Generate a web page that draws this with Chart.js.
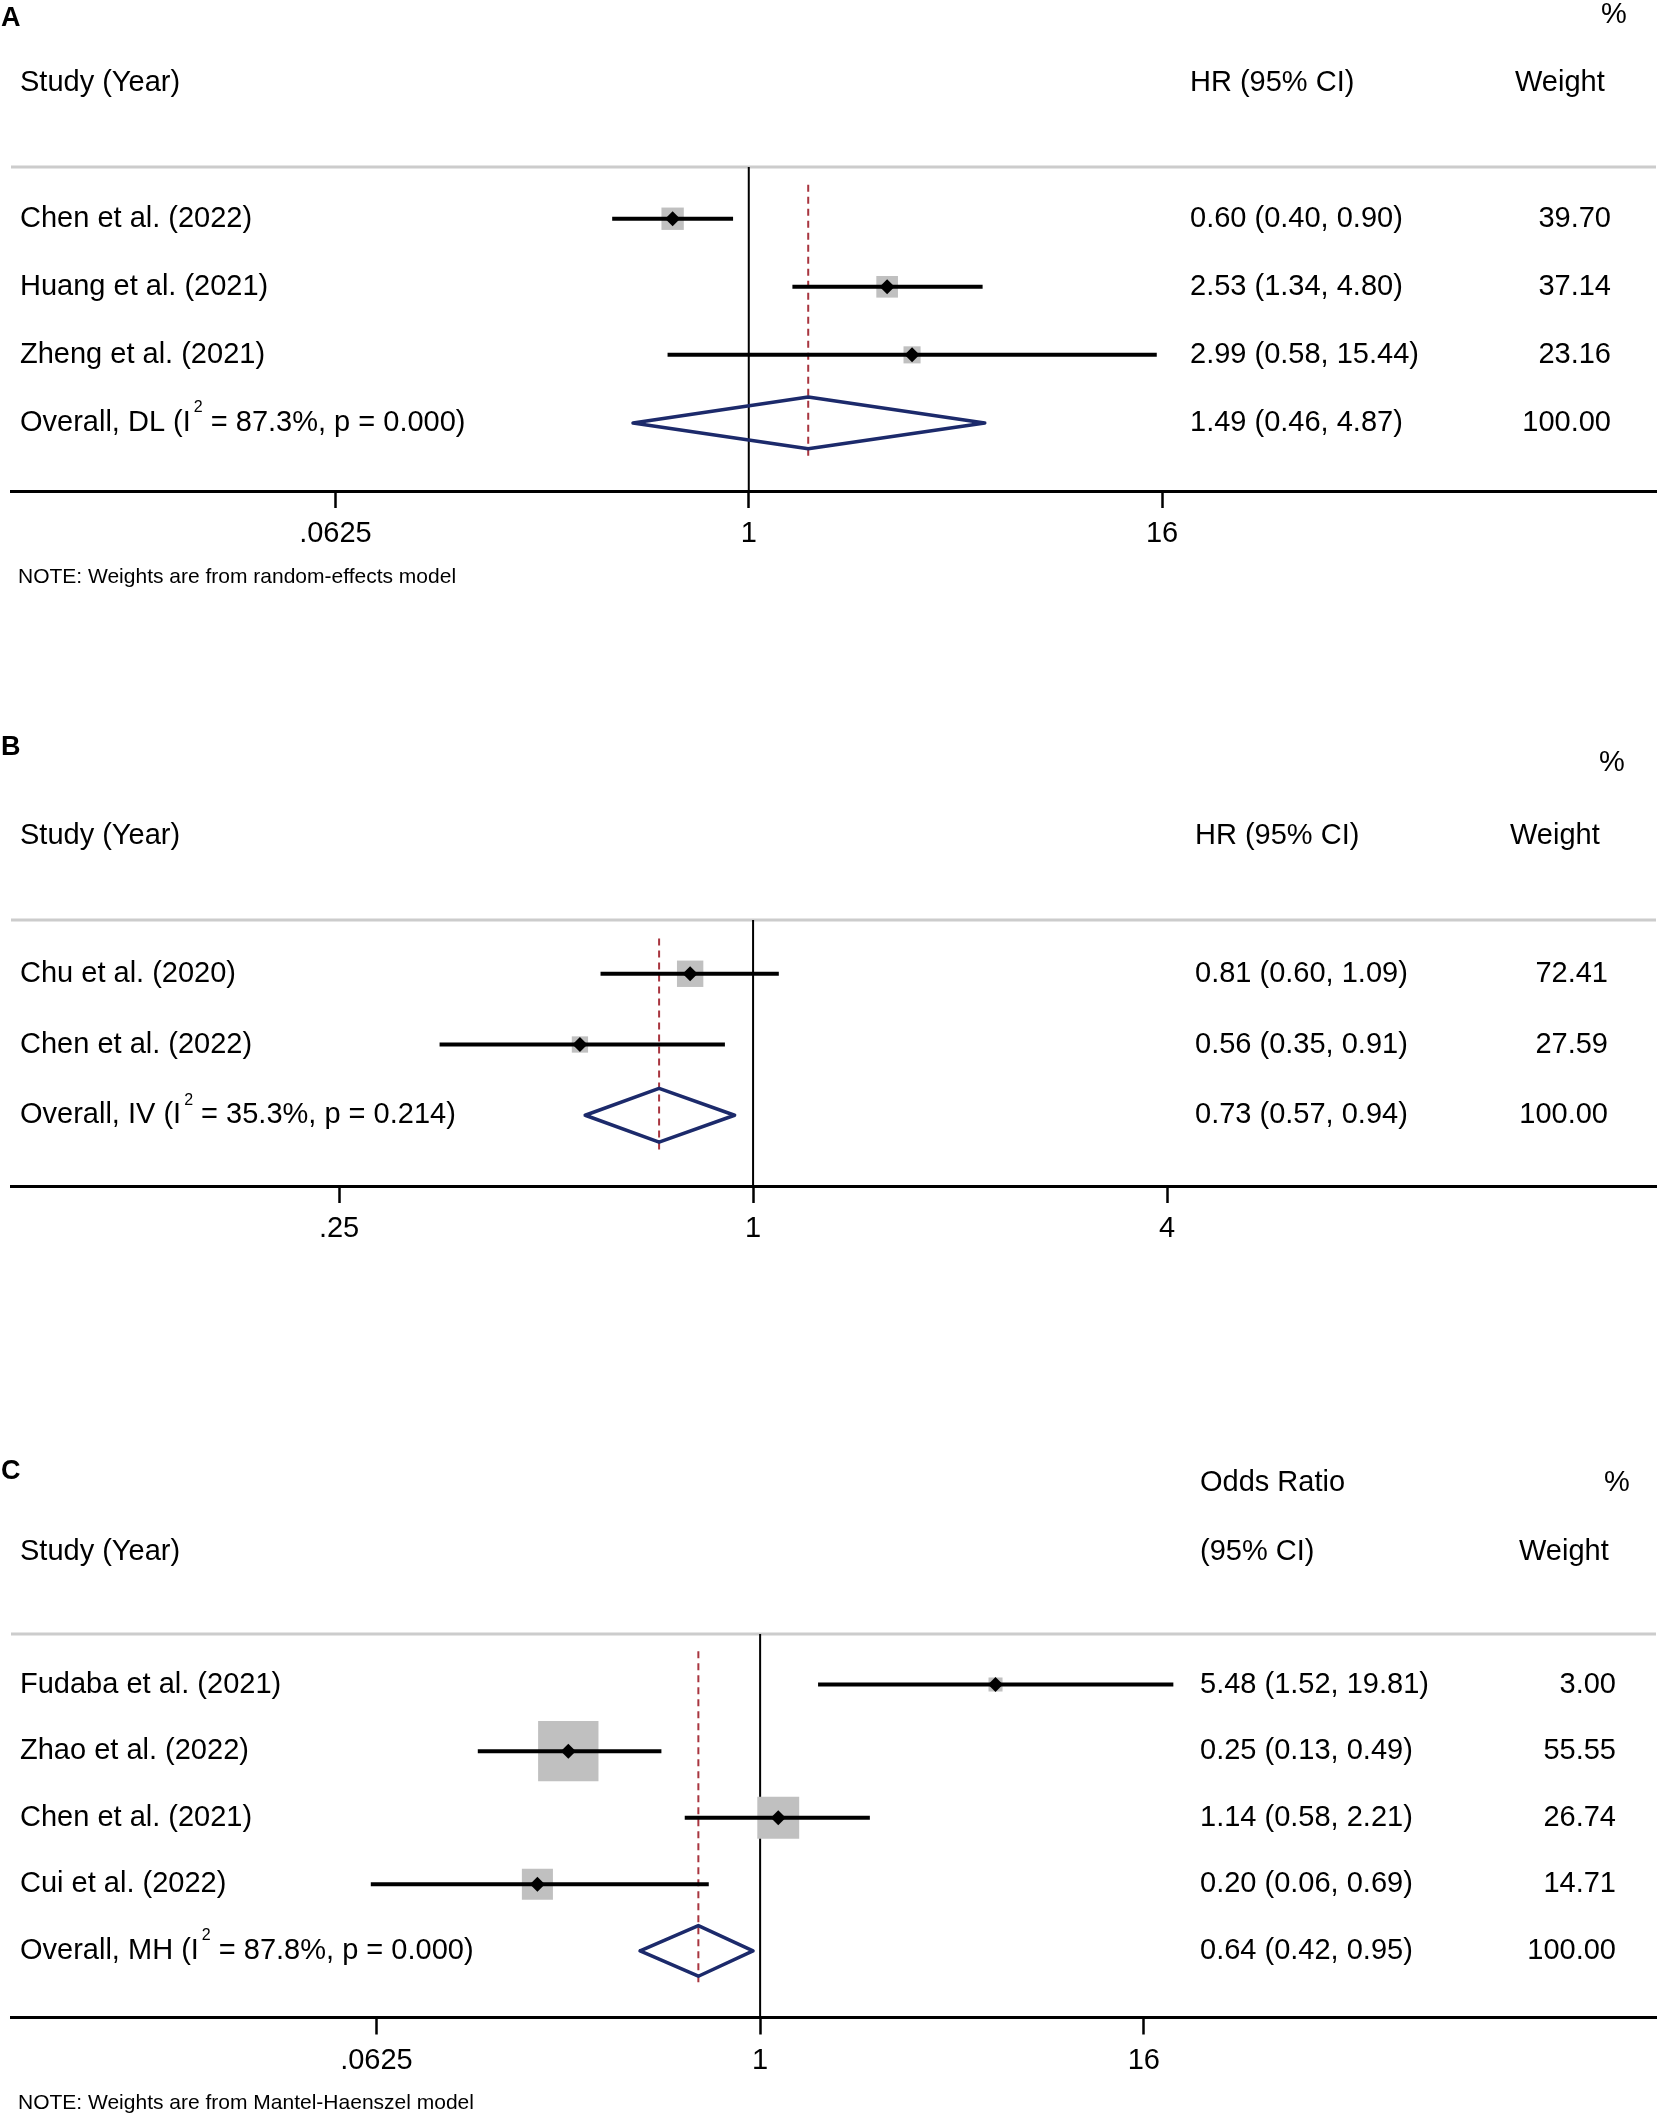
<!DOCTYPE html>
<html>
<head>
<meta charset="utf-8">
<script src="https://cdn.jsdelivr.net/npm/chart.js@4.4.1/dist/chart.umd.min.js"></script>
<style>
  html,body{margin:0;padding:0;background:#fff;}
  body{width:1665px;height:2118px;position:relative;overflow:hidden;}
  canvas{position:absolute;left:0;}
</style>
</head>
<body>
<canvas id="cA"></canvas>
<canvas id="cB"></canvas>
<canvas id="cC"></canvas>
<script>
// ---------------- DATA ----------------
// Panel A
const studiesA = ['Chen et al. (2022)', 'Huang et al. (2021)', 'Zheng et al. (2021)'];
const estA = [0.60, 2.53, 2.99];
const lowA = [0.40, 1.34, 0.58];
const highA = [0.90, 4.80, 15.44];
const weightA = [39.70, 37.14, 23.16];
const overallA = [1.49, 0.46, 4.87];           // estimate, lower, upper
const overallLabelA = ['Overall, DL (I', '2', ' = 87.3%, p = 0.000)'];
const ticksA = [0.0625, 1, 16];
const tickLabelsA = ['.0625', '1', '16'];
const headersA = ['Study (Year)', 'HR (95% CI)', 'Weight', '%'];
const noteA = 'NOTE: Weights are from random-effects model';

// Panel B
const studiesB = ['Chu et al. (2020)', 'Chen et al. (2022)'];
const estB = [0.81, 0.56];
const lowB = [0.60, 0.35];
const highB = [1.09, 0.91];
const weightB = [72.41, 27.59];
const overallB = [0.73, 0.57, 0.94];
const overallLabelB = ['Overall, IV (I', '2', ' = 35.3%, p = 0.214)'];
const ticksB = [0.25, 1, 4];
const tickLabelsB = ['.25', '1', '4'];
const headersB = ['Study (Year)', 'HR (95% CI)', 'Weight', '%'];
const noteB = '';

// Panel C
const studiesC = ['Fudaba et al. (2021)', 'Zhao et al. (2022)', 'Chen et al. (2021)', 'Cui et al. (2022)'];
const estC = [5.48, 0.25, 1.14, 0.20];
const lowC = [1.52, 0.13, 0.58, 0.06];
const highC = [19.81, 0.49, 2.21, 0.69];
const weightC = [3.00, 55.55, 26.74, 14.71];
const overallC = [0.64, 0.42, 0.95];
const overallLabelC = ['Overall, MH (I', '2', ' = 87.8%, p = 0.000)'];
const ticksC = [0.0625, 1, 16];
const tickLabelsC = ['.0625', '1', '16'];
const headersC = ['Study (Year)', '(95% CI)', 'Weight', '%', 'Odds Ratio'];
const noteC = 'NOTE: Weights are from Mantel-Haenszel model';

// ---------------- LAYOUT / STYLE ----------------
const FONT = "'Liberation Sans', Arial, sans-serif";
const FS = 29;
const AXIS_H = 60;
const panels = [
  { id:'cA', letter:'A', studies:studiesA, est:estA, low:lowA, high:highA, w:weightA, overall:overallA,
    overallLabel:overallLabelA, ticks:ticksA, tickLabels:tickLabelsA, headers:headersA, note:noteA,
    canvasTop:0, canvasH:600, areaTop:167, areaBottom:491, xMinExp:-7.14, xMaxExp:8.78, boxK:3.55,
    letterY:19, pctY:15, headY:82.5, subHeadY:null, noteY:577,
    ciX:1190, wRight:1611, weightHeadX:1515, pctX:1601 },
  { id:'cB', letter:'B', studies:studiesB, est:estB, low:lowB, high:highB, w:weightB, overall:overallB,
    overallLabel:overallLabelB, ticks:ticksB, tickLabels:tickLabelsB, headers:headersB, note:noteB,
    canvasTop:700, canvasH:560, areaTop:920, areaBottom:1186, xMinExp:-3.585, xMaxExp:4.362, boxK:3.1,
    letterY:748, pctY:763, headY:836, subHeadY:null, noteY:null,
    ciX:1195, wRight:1608, weightHeadX:1510, pctX:1599 },
  { id:'cC', letter:'C', studies:studiesC, est:estC, low:lowC, high:highC, w:weightC, overall:overallC,
    overallLabel:overallLabelC, ticks:ticksC, tickLabels:tickLabelsC, headers:headersC, note:noteC,
    canvasTop:1420, canvasH:698, areaTop:1634, areaBottom:2017.5, xMinExp:-7.81, xMaxExp:9.34, boxK:8.1,
    letterY:1472, pctY:1483, headY:1552, subHeadY:1483, noteY:2103,
    ciX:1200, wRight:1616, weightHeadX:1519, pctX:1604 }
];

const textPlugin = {
  id: 'forestText',
  afterDraw(chart, args, P) {
    const ctx = chart.ctx;
    const ys = chart.scales.y;
    const T = P.canvasTop;
    ctx.save();
    ctx.fillStyle = '#000';
    ctx.textBaseline = 'middle';
    // panel letter
    ctx.font = 'bold 27px ' + FONT;
    ctx.textAlign = 'left';
    ctx.fillText(P.letter, 1, P.letterY - T);
    ctx.font = FS + 'px ' + FONT;
    // headers
    ctx.fillText(P.headers[0], 20, P.headY - T);
    ctx.fillText(P.headers[1], P.ciX, P.headY - T);
    ctx.fillText(P.headers[2], P.weightHeadX, P.headY - T);
    ctx.fillText(P.headers[3], P.pctX, P.pctY - T);
    if (P.headers[4]) ctx.fillText(P.headers[4], P.ciX, P.subHeadY - T);
    // rows
    const fmt = v => v.toFixed(2);
    P.studies.forEach((s, i) => {
      const y = ys.getPixelForValue(i);
      ctx.textAlign = 'left';
      ctx.fillText(s, 20, y);
      ctx.fillText(fmt(P.est[i]) + ' (' + fmt(P.low[i]) + ', ' + fmt(P.high[i]) + ')', P.ciX, y);
      ctx.textAlign = 'right';
      ctx.fillText(fmt(P.w[i]), P.wRight, y);
    });
    // overall row
    const oy = ys.getPixelForValue(P.studies.length);
    ctx.textAlign = 'left';
    let x = 20;
    ctx.fillText(P.overallLabel[0], x, oy);
    x += ctx.measureText(P.overallLabel[0]).width + 3;
    ctx.font = '16px ' + FONT;
    ctx.fillText(P.overallLabel[1], x, oy - 15);
    x += ctx.measureText(P.overallLabel[1]).width;
    ctx.font = FS + 'px ' + FONT;
    ctx.fillText(P.overallLabel[2], x, oy);
    const o = P.overall;
    ctx.fillText(fmt(o[0]) + ' (' + fmt(o[1]) + ', ' + fmt(o[2]) + ')', P.ciX, oy);
    ctx.textAlign = 'right';
    ctx.fillText(fmt(P.w.reduce((a, b) => a + b, 0)), P.wRight, oy);
    // note
    if (P.note) {
      ctx.textAlign = 'left';
      ctx.font = '21px ' + FONT;
      ctx.fillText(P.note, 18, P.noteY - T);
    }
    ctx.restore();
  }
};

function makeChart(P) {
  const cv = document.getElementById(P.id);
  cv.width = 1665; cv.height = P.canvasH;
  cv.style.top = P.canvasTop + 'px';
  cv.style.width = '1665px'; cv.style.height = P.canvasH + 'px';
  const n = P.studies.length;
  const yMin = -0.76, yMax = n + 1.0;
  const xMin = Math.pow(2, P.xMinExp), xMax = Math.pow(2, P.xMaxExp);
  const dh = 0.38;
  const datasets = [];
  // top gray rule
  datasets.push({ data:[{x:xMin,y:yMin},{x:xMax,y:yMin}], showLine:true, borderColor:'#cccccc', borderWidth:3,
    pointRadius:0, clip:false, order:20 });
  // null line at 1
  datasets.push({ data:[{x:1,y:yMin},{x:1,y:yMax}], showLine:true, borderColor:'#000', borderWidth:2,
    pointRadius:0, clip:false, order:19 });
  // boxes (weights)
  datasets.push({ data:P.est.map((v,i)=>({x:v,y:i})), pointStyle:'rect',
    pointRadius:P.w.map(w=>P.boxK*Math.sqrt(w)/Math.SQRT2), backgroundColor:'#c0c0c0', borderWidth:0, order:18 });
  // dashed overall reference line
  datasets.push({ data:[{x:P.overall[0],y:-0.5},{x:P.overall[0],y:n+0.5}], showLine:true, borderColor:'#a8353f',
    borderWidth:2, borderDash:[7,5], pointRadius:0, order:17 });
  // CI lines
  P.est.forEach((v,i)=>{
    datasets.push({ data:[{x:P.low[i],y:i},{x:P.high[i],y:i}], showLine:true, borderColor:'#000', borderWidth:4,
      pointRadius:0, borderCapStyle:'butt', order:10 });
  });
  // point estimates
  datasets.push({ data:P.est.map((v,i)=>({x:v,y:i})), pointStyle:'rectRot', pointRadius:7.5,
    backgroundColor:'#000', borderWidth:0, order:5 });
  // overall diamond
  const o = P.overall;
  datasets.push({ data:[{x:o[1],y:n},{x:o[0],y:n-dh},{x:o[2],y:n},{x:o[0],y:n+dh},{x:o[1],y:n}], showLine:true,
    borderColor:'#1c2a6b', borderWidth:3.5, borderJoinStyle:'round', borderCapStyle:'round',
    pointRadius:0, fill:false, order:4 });

  return new Chart(cv, {
    type:'scatter',
    data:{ datasets },
    options:{
      responsive:false, animation:false, events:[], devicePixelRatio:1,
      layout:{ autoPadding:false, padding:{ left:11, right:9, top:P.areaTop - P.canvasTop,
        bottom:P.canvasTop + P.canvasH - P.areaBottom - AXIS_H } },
      plugins:{ legend:{display:false}, tooltip:{enabled:false}, forestText:P },
      scales:{
        x:{ type:'logarithmic', position:'bottom', min:xMin, max:xMax,
          afterBuildTicks: s => { s.ticks = P.ticks.map(v => ({ value:v })); },
          afterFit: s => { s.height = AXIS_H; },
          ticks:{ callback:(v,i)=>P.tickLabels[i], color:'#000', font:{family:FONT, size:FS},
            padding:9, maxRotation:0, autoSkip:false },
          grid:{ drawOnChartArea:false, drawTicks:true, tickLength:17, tickWidth:2.5, tickColor:'#000', color:'#000' },
          border:{ display:true, color:'#000', width:3 } },
        y:{ type:'linear', display:false, reverse:true, min:yMin, max:yMax }
      }
    },
    plugins:[textPlugin]
  });
}
panels.forEach(makeChart);
</script>
</body>
</html>
